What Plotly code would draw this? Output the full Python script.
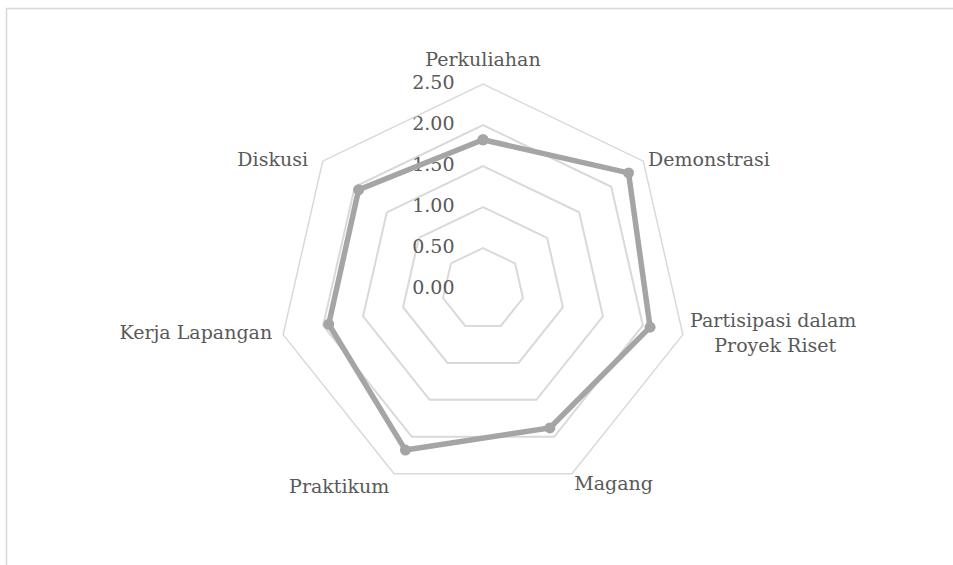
import plotly.graph_objects as go

# Teaching methods and their mean scores
categories = ["Perkuliahan", "Demonstrasi", "Partisipasi dalam Proyek Riset",
              "Magang", "Praktikum", "Kerja Lapangan", "Diskusi"]
scores = [1.82, 2.27, 2.09, 1.88, 2.18, 1.93, 1.94]
radial_ticks = [0.0, 0.5, 1.0, 1.5, 2.0, 2.5]
radial_tick_text = ["0.00", "0.50", "1.00", "1.50", "2.00", "2.50"]

# Category label text as displayed around the web
category_labels = ["Perkuliahan", "Demonstrasi",
                   "Partisipasi dalam<br>\u00a0\u00a0\u00a0\u00a0Proyek Riset",
                   "Magang", "Praktikum", "Kerja Lapangan", "Diskusi"]
label_positions = ["top center", "middle right", "middle right", "bottom right",
                   "bottom left", "middle left", "middle left"]
label_gap = [20, 6, 10, 2, 6, 16, 22]  # spacer marker sizes (text offset)

W, H = 953, 565
cx, cy, R = 483, 289, 205  # plot centre and outer radius in pixels
R_MAX = 2.5
EPS = 1e-4  # keeps the zero label off the degenerate centre point

TEXT = "#595959"
GRID = "#D9D9D9"
SERIES = "#A5A5A5"
FONT = "DejaVu Serif"

fig = go.Figure()

# Radial value labels stacked left of the top spoke
fig.add_trace(go.Scatterpolar(
    r=[max(v, EPS) for v in radial_ticks],
    theta=[categories[0]] * len(radial_ticks),
    mode="markers+text",
    text=radial_tick_text,
    textposition="middle left",
    textfont=dict(family=FONT, size=19, color=TEXT),
    marker=dict(size=44, color="rgba(0,0,0,0)"),
    showlegend=False,
    hoverinfo="skip",
    cliponaxis=False,
))

# Data series (closed loop)
fig.add_trace(go.Scatterpolar(
    r=scores + scores[:1],
    theta=categories + categories[:1],
    mode="lines+markers",
    line=dict(color=SERIES, width=5.5),
    marker=dict(color=SERIES, size=11),
    showlegend=False,
    hoverinfo="skip",
))

# Category names just outside the outer ring
fig.add_trace(go.Scatterpolar(
    r=[R_MAX] * len(categories),
    theta=categories,
    mode="markers+text",
    text=category_labels,
    textposition=label_positions,
    textfont=dict(family=FONT, size=19, color=TEXT),
    marker=dict(size=label_gap, color="rgba(0,0,0,0)"),
    showlegend=False,
    hoverinfo="skip",
    cliponaxis=False,
))

fig.update_layout(
    width=W, height=H,
    margin=dict(l=0, r=0, t=0, b=0),
    paper_bgcolor="white",
    plot_bgcolor="white",
    font=dict(family=FONT, size=19, color=TEXT),
    polar=dict(
        domain=dict(x=[(cx - R) / W, (cx + R) / W],
                    y=[(H - cy - R) / H, (H - cy + R) / H]),
        gridshape="linear",
        bgcolor="white",
        radialaxis=dict(
            range=[0, R_MAX],
            tickvals=radial_ticks,
            showticklabels=False,
            angle=90,
            showline=False,
            ticks="",
            gridcolor=GRID,
            gridwidth=1.5,
        ),
        angularaxis=dict(
            direction="clockwise",
            rotation=90,
            categoryorder="array",
            categoryarray=categories,
            showgrid=False,
            showline=True,
            linecolor=GRID,
            linewidth=1.5,
            ticks="",
            showticklabels=False,
        ),
    ),
    shapes=[dict(
        type="rect", xref="paper", yref="paper",
        x0=6.5 / W, x1=1.02, y0=-0.02, y1=(H - 8.5) / H,
        line=dict(color=GRID, width=1.5), fillcolor="rgba(0,0,0,0)",
    )],
)

fig.write_html("out.html")
